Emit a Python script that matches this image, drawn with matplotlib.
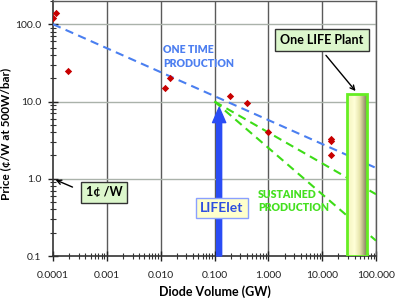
import matplotlib
matplotlib.use("Agg")
import matplotlib.pyplot as plt
import numpy as np
from matplotlib.patches import Rectangle
from matplotlib.colors import LinearSegmentedColormap

plt.rcParams['font.family'] = ['Lato', 'DejaVu Sans']

# measured data (GW, cents/W)
diode_gw = [0.0001, 0.000114, 0.00019, 0.0121, 0.015, 0.195, 0.40, 1.0, 14.7, 14.7, 14.7]
price = [120, 139, 24.7, 14.9, 20, 11.7, 9.5, 4.0, 3.25, 3.05, 2.0]

# one time production trend
one_time_x = [0.0001, 100]
one_time_y = [100, 1.38]

# sustained production trends, starting at the LIFElet
sustained_x = [0.1, 100]
sustained_hi = [10, 0.63]
sustained_lo = [10, 0.158]

lifelet_x = 0.122
lifelet_tip = 8.4

plant_x = [29, 69]
plant_top = 12.4

xticks = [0.0001, 0.001, 0.01, 0.1, 1, 10, 100]
xlabels = ['0.0001', '0.001', '0.010', '0.100', '1.000', '10.000', '100.000']
yticks = [0.1, 1, 10, 100]
ylabels = ['0.1', '1.0', '10.0', '100.0']

fig = plt.figure(figsize=(3.98, 3.04), dpi=100)
ax = fig.add_axes([53/398, 48/304, 323/398, 255/304])
ax.set_xscale('log')
ax.set_yscale('log')

# grid
for xv in xticks[1:]:
    ax.axvline(xv, color='#5a5a5a', lw=1.0, zorder=1)
for yv in yticks[1:]:
    ax.axhline(yv, color='#aab2aa', lw=1.0, zorder=1)

ax.plot(one_time_x, one_time_y, color='#4a7ff0', lw=1.5, dashes=(4, 2.6), zorder=3)
ax.plot(sustained_x, sustained_hi, color='#3ddc17', lw=1.5, dashes=(4, 2.6), zorder=3)
ax.plot(sustained_x, sustained_lo, color='#3ddc17', lw=1.5, dashes=(4, 2.6), zorder=3)

ax.scatter(diode_gw, price, marker='D', s=14, color='#c80000', zorder=4, linewidths=0)

# LIFE plant cylinder
cmap = LinearSegmentedColormap.from_list('cyl', ['#f4f4c0', '#ffffd8', '#e6e5aa', '#aaa67a', '#747255'])
grad = np.linspace(0, 1, 64).reshape(1, -1)
ax.imshow(grad, cmap=cmap, aspect='auto', extent=[plant_x[0], plant_x[1], 0.1, plant_top],
          zorder=5, interpolation='bilinear')
ax.add_patch(Rectangle((plant_x[0], 0.1), plant_x[1] - plant_x[0], plant_top - 0.1,
                       fill=False, edgecolor='#66ee22', lw=2, zorder=6))
ax.set_xlim(0.0001, 100)
ax.set_ylim(0.1, 200)

# LIFElet arrow
ax.annotate('', xy=(lifelet_x, lifelet_tip), xytext=(lifelet_x, 0.1),
            arrowprops=dict(facecolor='#2a4cf5', edgecolor='#2a4cf5', width=3.6,
                            headwidth=9.5, headlength=11), zorder=6)

ax.text(0.138, 0.417, 'LIFElet', fontsize=10, fontweight='bold', color='#2f4fe0',
        ha='center', va='center', zorder=7,
        bbox=dict(boxstyle='square,pad=0.3', facecolor='#ffffcc', edgecolor='#8aa0ff', lw=1))

ax.text(0.0111, 38, 'ONE TIME\nPRODUCTION', fontsize=7.6, fontweight='heavy', color='#4d7ff0',
        ha='left', va='center', linespacing=1.3, zorder=7)
ax.text(0.646, 0.513, 'SUSTAINED\nPRODUCTION', fontsize=7.6, fontweight='heavy', color='#45e020',
        ha='left', va='center', linespacing=1.3, zorder=7)

ax.text(10, 62, 'One LIFE Plant', fontsize=9, fontweight='bold', color='black',
        ha='center', va='center', zorder=8,
        bbox=dict(boxstyle='square,pad=0.4', facecolor='#dcf7cc', edgecolor='#333333', lw=1))
ax.annotate('', xy=(45, 12.8), xytext=(10.9, 42.2),
            arrowprops=dict(arrowstyle='->', color='black', lw=1, mutation_scale=8), zorder=8)

ax.text(0.000887, 0.67, '1¢ /W', fontsize=9, fontweight='bold', color='black',
        ha='center', va='center', zorder=8,
        bbox=dict(boxstyle='square,pad=0.35', facecolor='#dcf7cc', edgecolor='#333333', lw=1))
ax.annotate('', xy=(0.0001, 1.0), xytext=(0.000257, 0.755),
            arrowprops=dict(arrowstyle='->', color='black', lw=1, mutation_scale=8), zorder=8)

ax.set_xticks(xticks)
ax.set_xticklabels(xlabels)
ax.set_yticks(yticks)
ax.set_yticklabels(ylabels)
ax.tick_params(axis='both', which='major', direction='inout', length=7, width=1,
               labelsize=7.5, colors='#222222', pad=5)
ax.tick_params(axis='both', which='minor', direction='inout', length=5, width=0.8, colors='#333333')
ax.tick_params(axis='x', which='major', pad=7)

for s in ['left', 'bottom']:
    ax.spines[s].set_color('#333333')
    ax.spines[s].set_linewidth(1.2)
for s in ['top', 'right']:
    ax.spines[s].set_color('#5a5a5a')
    ax.spines[s].set_linewidth(1.0)

ax.set_xlabel('Diode Volume (GW)', fontsize=9, fontweight='bold', labelpad=4)
ax.set_ylabel('Price (¢/W at 500W/bar)', fontsize=8.5, fontweight='bold')
ax.yaxis.set_label_coords(-0.128, 0.48)

fig.savefig('out.png', dpi=100)
